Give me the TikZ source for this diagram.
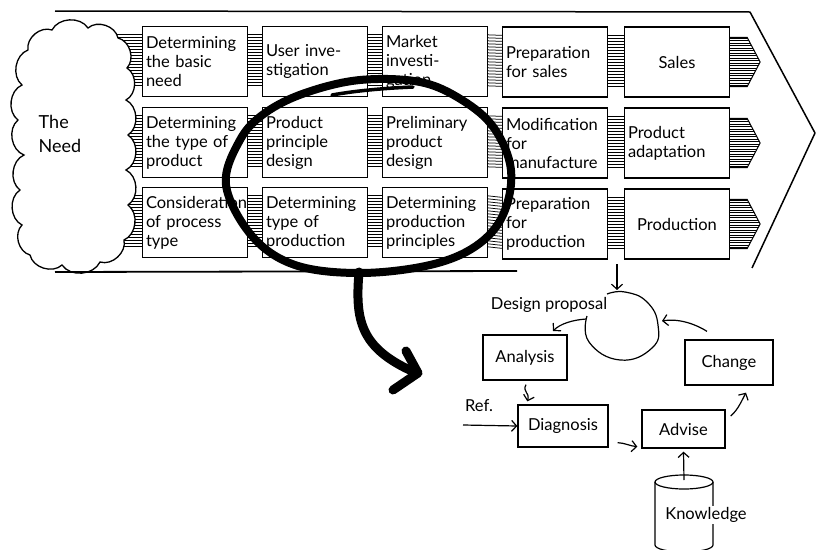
\documentclass[tikz,border=0pt]{standalone}
\usepackage{fontspec}
\setmainfont{Lato}
\usetikzlibrary{calc,arrows.meta}

\tikzset{
  stage/.style={draw, fill=white, line width=1.3pt, minimum width=105pt, minimum height=70pt,
    text width=98pt, align=left, inner sep=0pt, font=\fontsize{16.5}{19}\selectfont},
  stagec/.style={stage, align=center},
  hatch/.style={line width=0.75pt},
  frame/.style={line width=1.5pt},
  loopmark/.style={line width=8pt, line cap=round, line join=round},
  flowbox/.style={draw, line width=1.3pt, inner sep=0pt, font=\fontsize{16.5}{19}\selectfont},
  flowtext/.style={inner sep=1pt, font=\fontsize{16.5}{19}\selectfont},
  flow/.style={line width=1.2pt, -{Straight Barb[length=5pt,width=11pt]}},
}

% horizontal hatching between two stage boxes
\newcommand{\hband}[2]{%
  \foreach \k in {0,...,17}{%
    \draw[hatch] ($(#1.north east)+(0,9+3*\k)$) -- ($(#2.north west)+(0,9+3*\k)$);}}

% hatched arrow head leaving a stage box
\newcommand{\hhead}[1]{%
  \begin{scope}
    \clip ($(#1.north east)+(0,11)$) -- ($(#1.north east)+(17,11)$) -- ($(#1.east)+(30,0)$)
      -- ($(#1.south east)+(17,-11)$) -- ($(#1.south east)+(0,-11)$) -- cycle;
    \foreach \k in {0,...,20}{%
      \draw[hatch] ($(#1.north east)+(0,12+2.5*\k)$) -- ++(35,0);}
  \end{scope}
  \draw[line width=1pt] ($(#1.north east)+(0,11)$) -- ($(#1.north east)+(17,11)$) -- ($(#1.east)+(30,0)$)
      -- ($(#1.south east)+(17,-11)$) -- ($(#1.south east)+(0,-11)$);}

\begin{document}
\begin{tikzpicture}[x=1pt,y=-1pt]
\useasboundingbox (0,0) rectangle (816,549);
\fill[white] (0,0) rectangle (816,549);

% ---- stage boxes ----
\node[stage]  (b11) at (195,61.5) {Determining\\the basic\\need};
\node[stage]  (b12) at (315,61.5) {User inve-\\stigation};
\node[stage]  (b13) at (435,61.5) {Market\\investi-\\gation};
\node[stage]  (b14) at (555,62)   {Preparation\\for sales};
\node[stagec] (b15) at (677,62)   {Sales};

\node[stage]  (b21) at (195,142.5) {Determining\\the type of\\product};
\node[stage]  (b22) at (315,142.5) {Product\\principle\\design};
\node[stage]  (b23) at (435,142.5) {Preliminary\\product\\design};
\node[stage]  (b24) at (555,143)   {Modification\\for\\manufacture};
\node[stage]  (b25) at (677,143)   {Product\\adaptation};

\node[stage]  (b31) at (195,222.5) {Consideration\\of process\\type};
\node[stage]  (b32) at (315,222.5) {Determining\\type of\\production};
\node[stage]  (b33) at (435,222.5) {Determining\\production\\principles};
\node[stage]  (b34) at (555,224)   {Preparation\\for\\production};
\node[stagec] (b35) at (677,224)   {Production};

% ---- hatched links ----
\foreach \r in {1,2,3}{%
  \hband{b\r1}{b\r2}
  \hband{b\r2}{b\r3}
  \hband{b\r3}{b\r4}
  \hband{b\r4}{b\r5}
  \foreach \k in {0,...,17}{%
    \draw[hatch] ($(b\r1.north west)+(-30,9+3*\k)$) -- ($(b\r1.north west)+(0,9+3*\k)$);}
  \hhead{b\r5}
}

% ---- the need cloud ----
\draw[line width=1.3pt, fill=white]
  (28,50) to[bend left=60] (52,30) to[bend left=60] (88,28) to[bend left=60] (118,38)
  to[bend left=60] (127,68) to[bend left=60] (126,100) to[bend left=60] (128,135)
  to[bend left=60] (126,170) to[bend left=60] (128,205) to[bend left=60] (124,240)
  to[bend left=60] (100,262) to[bend left=60] (62,265) to[bend left=60] (30,255)
  to[bend left=60] (22,225) to[bend left=60] (20,190) to[bend left=60] (24,155)
  to[bend left=60] (18,120) to[bend left=60] (22,85) to[bend left=60] (28,50) -- cycle;
\node[align=left, inner sep=0pt, font=\fontsize{18}{24}\selectfont] (need) at (60,134) {The\\Need};

% ---- outer process arrow ----
\draw[frame, line join=round] (55,11) -- (750,12) -- (815,133) -- (752,268);
\draw[line width=1.8pt] (55,272) -- (517,271);

% ---- marked region ----
\draw[loopmark] plot[smooth cycle, tension=0.6] coordinates {
  (360,80) (420,82) (462,100) (494,128) (511,170) (503,215) (476,246) (430,265)
  (360,273) (295,265) (252,236) (226,185) (240,140) (265,113) (305,93)};
\draw[line width=3.5pt, line cap=round] (332,95) .. controls (360,90) and (390,88) .. (413,87);
\draw[line width=9pt, line cap=round] (359,272) .. controls (355,320) and (360,348) .. (414,372);
\draw[line width=9pt, line cap=round, line join=round] (406,351) -- (418,373) -- (393,390);

% ---- design review loop ----
\node[flowbox, minimum width=84pt, minimum height=45pt] (ana) at (525,357.5) {Analysis};
\node[flowbox, minimum width=90pt, minimum height=42pt] (dia) at (563,426) {Diagnosis};
\node[flowbox, minimum width=83pt, minimum height=38pt] (adv) at (683.5,429) {Advise};
\node[flowbox, minimum width=88pt, minimum height=45pt] (chg) at (729,362.5) {Change};
\node[flowtext] (dptext) at (549,305) {Design proposal};
\node[flowtext] (ref) at (479,406) {Ref.};

\coordinate (feed) at (617,264);
\coordinate (dpt) at (617,290);
\coordinate (dpl) at (586,319);
\coordinate (dpr) at (662,321);
\coordinate (refin) at (463,425);
\coordinate (kn) at (684,480);

\draw[line width=1.2pt] plot[smooth, tension=0.8] coordinates {
  (587,316) (589,342) (620,360) (652,348) (658,325) (647,302) (625,292) (607,294)};

% knowledge store
\draw[line width=1.2pt] (655,482) -- (655,545) arc[start angle=180, end angle=0, x radius=29, y radius=7] -- (713,482);
\draw[line width=1.2pt] (684,482) ellipse[x radius=29, y radius=7];
\node[flowtext, fill=white] (know) at (706,515) {Knowledge};

\draw[flow] (feed) -- (dpt);
\draw[flow] (dpl) .. controls (572,320) and (560,324) .. (553,331);
\draw[flow] ($(ana.south)+(1,4)$) .. controls (522,392) and (530,392) .. ($(dia.north west)+(10,-3)$);
\draw[flow] (refin) -- (dia.west);
\draw[flow] ($(dia.south east)+(9,-5)$) .. controls (625,443) and (630,446) .. ($(adv.south west)+(-4,-2)$);
\draw[flow] (kn) -- ($(adv.south)+(0,3)$);
\draw[flow] ($(adv.east)+(5,-13)$) .. controls (738,410) and (742,400) .. ($(chg.south)+(17,7)$);
\draw[flow] ($(chg.north)+(-22,-8)$) .. controls (697,325) and (680,318) .. (dpr);

\end{tikzpicture}
\end{document}
